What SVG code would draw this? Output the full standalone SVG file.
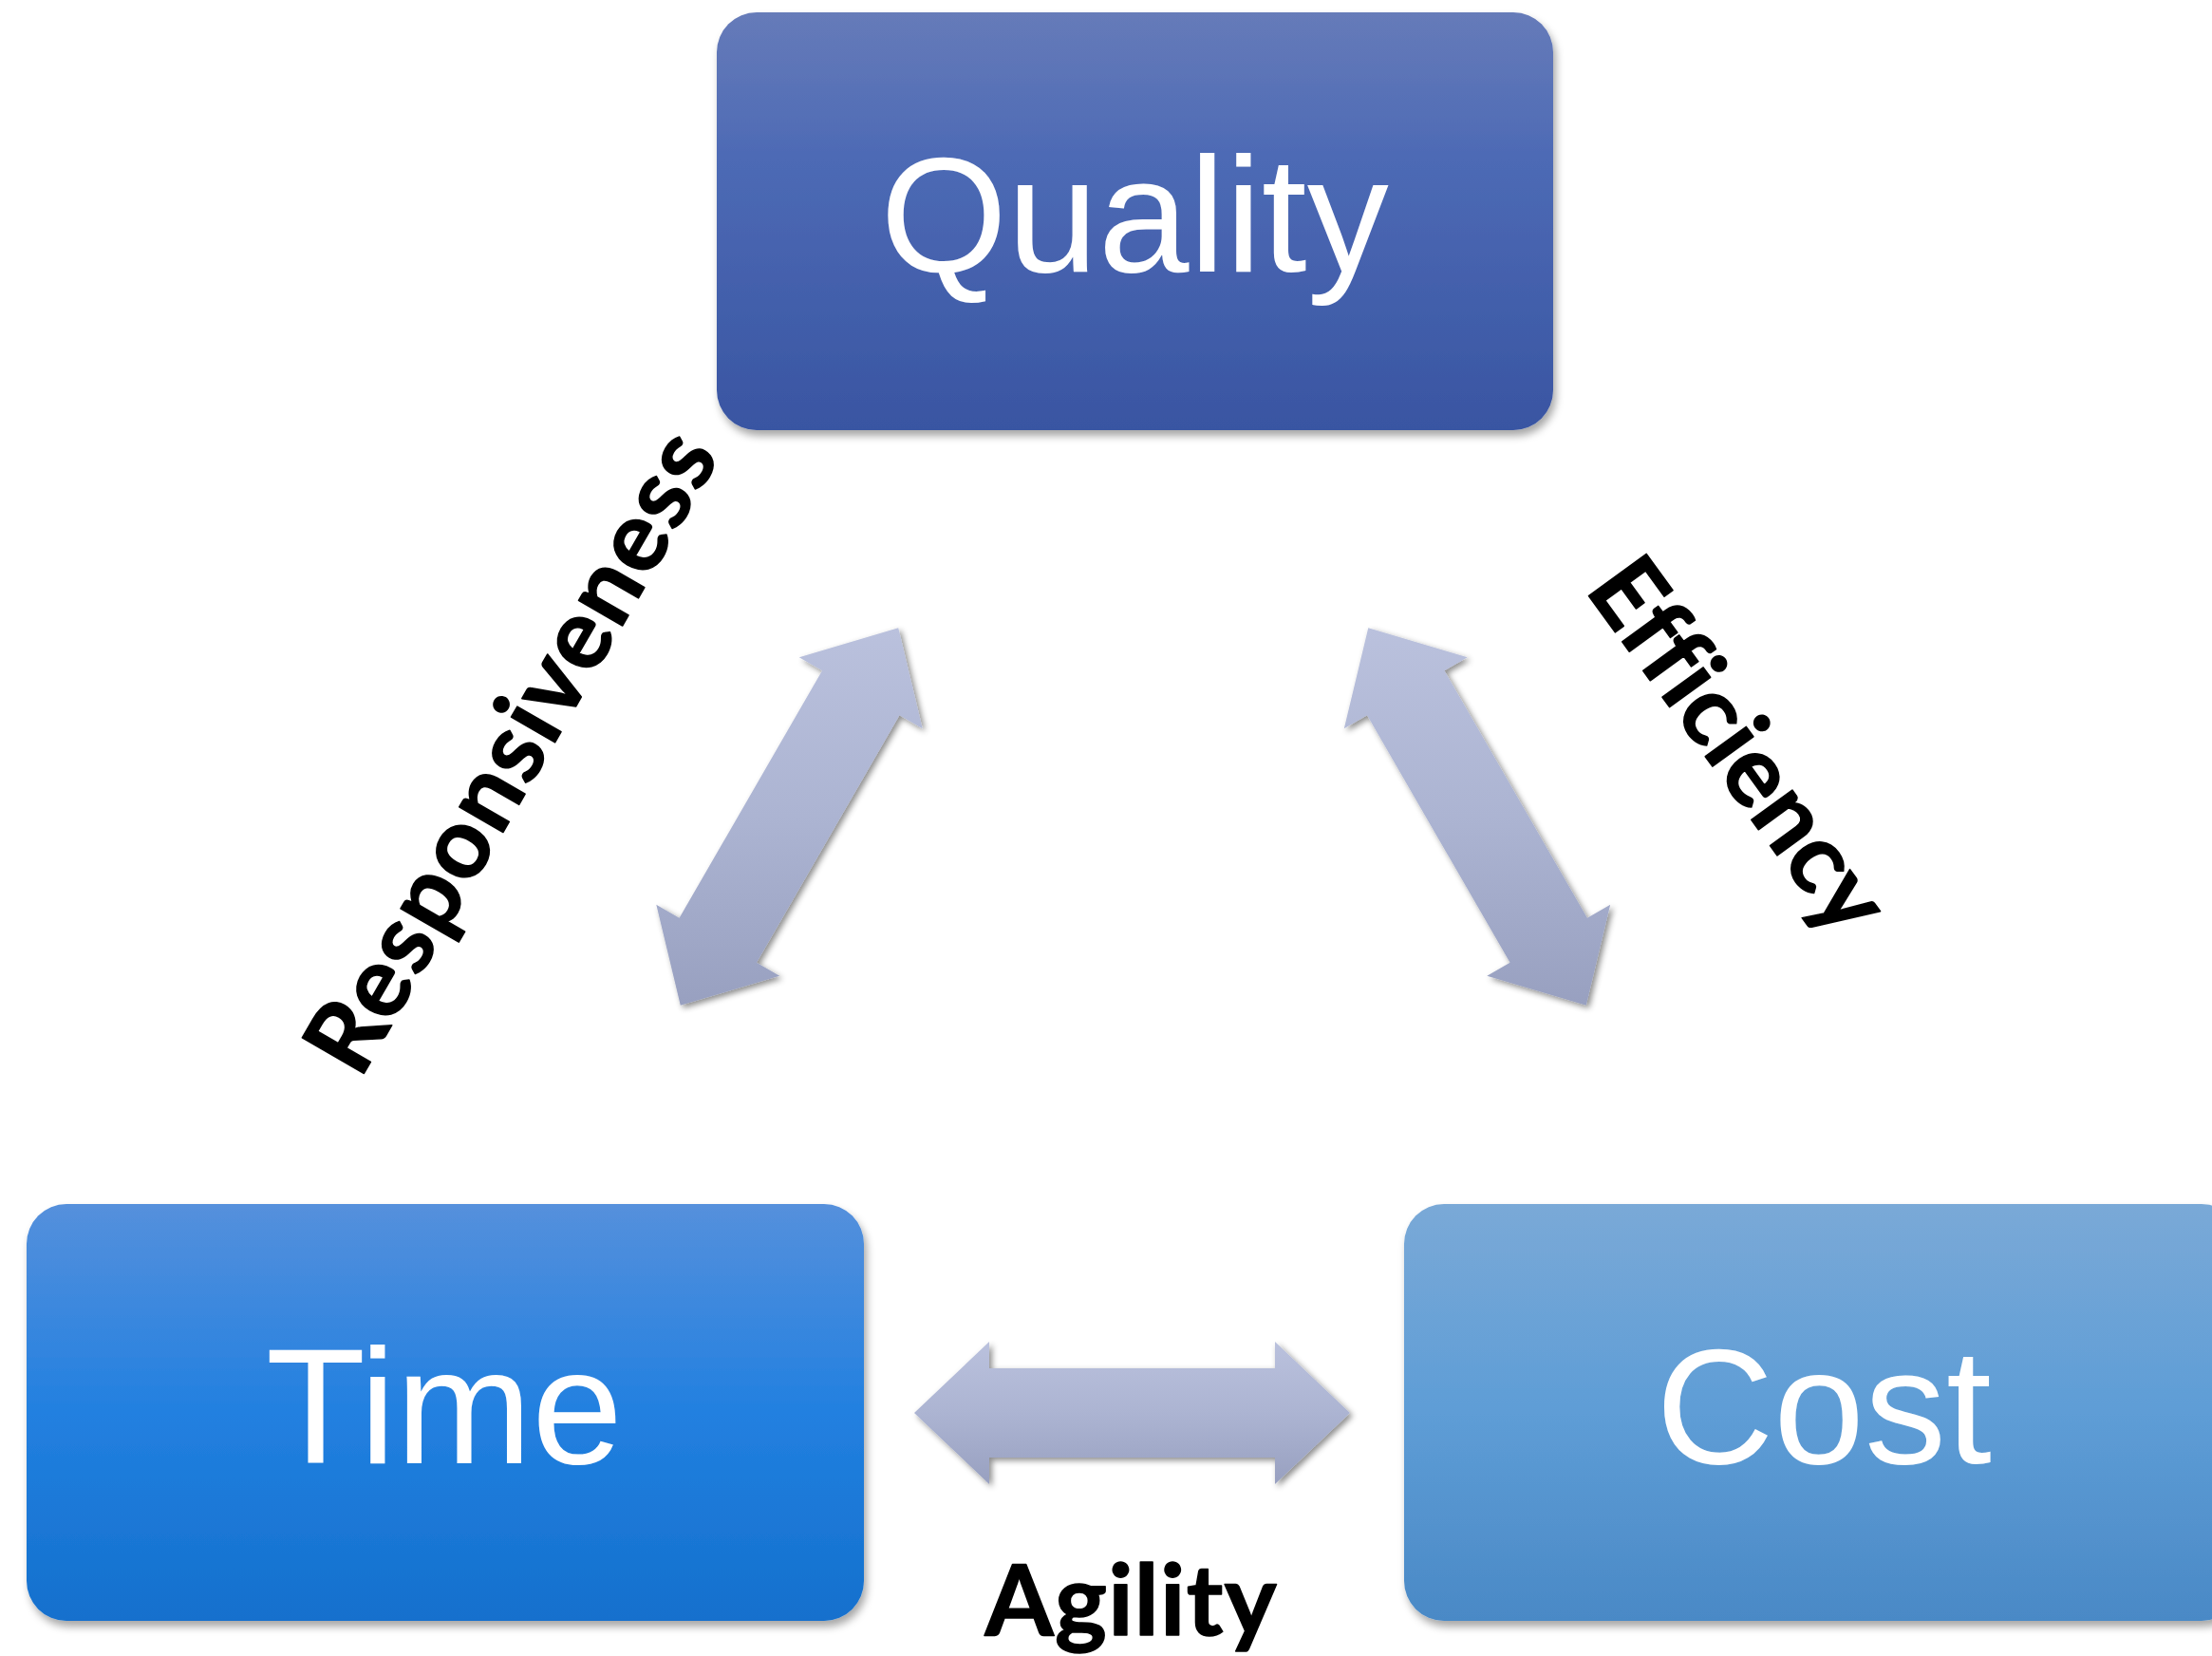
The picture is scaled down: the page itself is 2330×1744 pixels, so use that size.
<svg xmlns="http://www.w3.org/2000/svg" width="2330" height="1744" viewBox="0 0 2330 1744">
  <style>
    .node-text { font-family: "Liberation Sans", Arial, sans-serif; font-size: 172px; fill: #ffffff; text-anchor: middle; }
    .label { font-family: Lato, "Open Sans", "Liberation Sans", sans-serif; font-weight: 700; font-size: 104px; fill: #000000; stroke: #000000; stroke-width: 1.5px; stroke-linejoin: round; text-anchor: middle; font-variant-ligatures: none; font-feature-settings: "liga" 0; }
    .arrow { fill: url(#gArrow); filter: url(#shArrow); }
  </style>
  <defs>
    <linearGradient id="gQuality" x1="0" y1="0" x2="0" y2="1">
      <stop offset="0" stop-color="#667bb9"/>
      <stop offset="0.35" stop-color="#4d6ab5"/>
      <stop offset="1" stop-color="#3955a2"/>
    </linearGradient>
    <linearGradient id="gTime" x1="0" y1="0" x2="0" y2="1">
      <stop offset="0" stop-color="#5590dc"/>
      <stop offset="0.5" stop-color="#2280e0"/>
      <stop offset="1" stop-color="#1470cd"/>
    </linearGradient>
    <linearGradient id="gCost" x1="0" y1="0" x2="0" y2="1">
      <stop offset="0" stop-color="#7aa9d7"/>
      <stop offset="0.5" stop-color="#5e9dd6"/>
      <stop offset="1" stop-color="#4a89c6"/>
    </linearGradient>
    <linearGradient id="gArrow" x1="0" y1="0" x2="0" y2="1">
      <stop offset="0" stop-color="#bac1dd"/>
      <stop offset="0.5" stop-color="#acb4d2"/>
      <stop offset="1" stop-color="#98a0c0"/>
    </linearGradient>
    <filter id="shBox" x="-5%" y="-5%" width="112%" height="115%">
      <feDropShadow dx="3" dy="6" stdDeviation="4" flood-color="#000000" flood-opacity="0.35"/>
    </filter>
    <filter id="shArrow" x="-10%" y="-10%" width="125%" height="125%">
      <feDropShadow dx="3" dy="3" stdDeviation="3" flood-color="#000000" flood-opacity="0.45"/>
    </filter>
  </defs>

  <rect width="2330" height="1744" fill="#ffffff"/>

  <g id="connectors">
    <polygon id="arrow-quality-time" class="arrow" points="946.25,661.25 971.7,767.17 947.45,753.17 796.95,1013.83 821.2,1027.83 716.75,1058.75 691.3,952.83 715.55,966.83 866.05,706.17 841.8,692.17"/>
    <polygon id="arrow-quality-cost" class="arrow" points="1441.25,661.25 1415.8,767.17 1440.05,753.17 1590.55,1013.83 1566.3,1027.83 1670.75,1058.75 1696.2,952.83 1671.95,966.83 1521.45,706.17 1545.7,692.17"/>
    <polygon id="arrow-time-cost" class="arrow" points="1422,1488 1343,1563 1343,1535 1042,1535 1042,1563 963,1488 1042,1413 1042,1441 1343,1441 1343,1413"/>
  </g>

  <g id="labels">
    <text class="label" transform="translate(569,809) rotate(-60)" textLength="759" lengthAdjust="spacing">Responsiveness</text>
    <text class="label" transform="translate(1803,806) rotate(54)" textLength="458" lengthAdjust="spacing">Efficiency</text>
    <text class="label" x="1191" y="1722" textLength="307" lengthAdjust="spacing">Agility</text>
  </g>

  <g id="node-quality">
    <rect x="755" y="13" width="881" height="440" rx="42" ry="42" fill="url(#gQuality)" filter="url(#shBox)"/>
    <text class="node-text" x="1195" y="286">Quality</text>
  </g>

  <g id="node-time">
    <rect x="28" y="1268" width="882" height="439" rx="42" ry="42" fill="url(#gTime)" filter="url(#shBox)"/>
    <text class="node-text" x="468" y="1541">Time</text>
  </g>

  <g id="node-cost">
    <rect x="1479" y="1268" width="882" height="439" rx="42" ry="42" fill="url(#gCost)" filter="url(#shBox)"/>
    <text class="node-text" x="1921" y="1541">Cost</text>
  </g>
</svg>
